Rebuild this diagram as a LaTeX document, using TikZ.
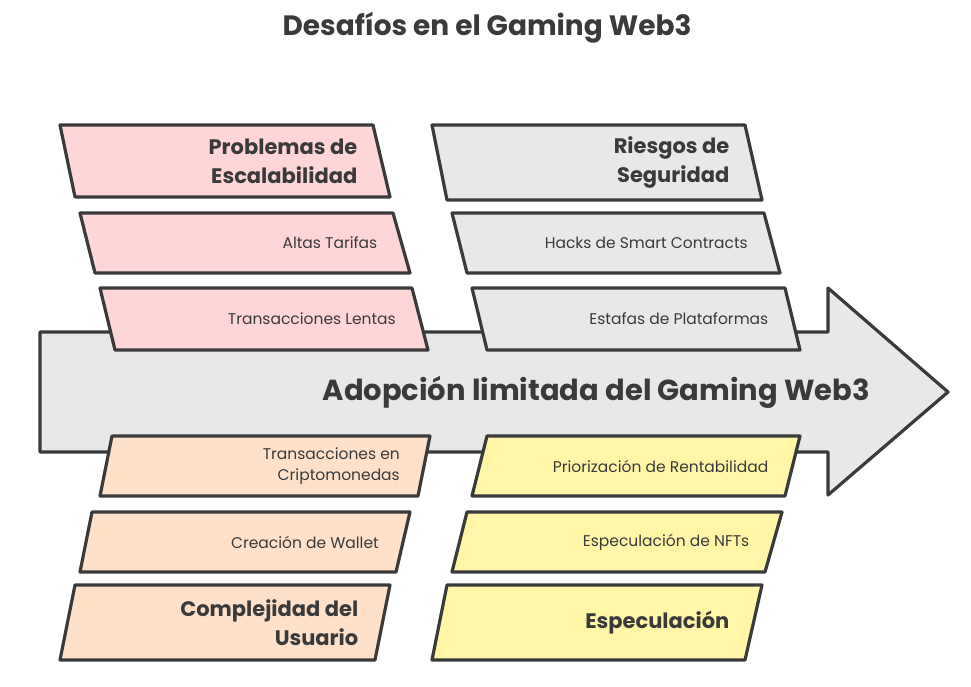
\documentclass[tikz,border=0pt]{standalone}
\usepackage{fontspec}
\setmainfont{Poppins}
\definecolor{ink}{HTML}{3A3A3A}
\definecolor{fred}{HTML}{FFD6D8}
\definecolor{fgray}{HTML}{E8E8E8}
\definecolor{forange}{HTML}{FFE1C9}
\definecolor{fyellow}{HTML}{FFF6A8}
\tikzset{
 edge/.style={draw=ink,line width=3.2pt,line join=round},
 itemtxt/.style={text=ink,font=\fontsize{15.5}{21}\selectfont,align=right,anchor=east,inner sep=0pt},
 headtxt/.style={text=ink,font=\fontsize{21}{29}\selectfont\bfseries,align=right,anchor=east,inner sep=0pt}
}
% #1 name, #2 ytop, #3 ybot, #4 xTL, #5 xTR, #6 xBL, #7 xBR, #8 fill, #9 node
\newcommand{\pbox}[9]{%
 \draw[edge,fill=#8] (#4,#2) -- (#5,#2) -- (#7,#3) -- (#6,#3) -- cycle;
 \coordinate (#1r) at ({(#5+#7)/2-24},{(#2+#3)/2});
 #9}
\begin{document}
\begin{tikzpicture}[x=1pt,y=-1pt]
\useasboundingbox (0,0) rectangle (971,686);
\node[text=ink,font=\fontsize{28}{34}\selectfont\bfseries] (title) at (487,28) {Desafíos en el Gaming Web3};
\draw[edge,fill=fgray] (40,332) -- (828,332) -- (828,288) -- (948,392) -- (828,495) -- (828,452) -- (40,452) -- cycle;
\node[text=ink,font=\fontsize{29}{34}\selectfont\bfseries,anchor=east,inner sep=0pt] (main) at (870,392) {Adopción limitada del Gaming Web3};
\pbox{a}{125}{197}{60}{373}{75}{390}{fred}{\node[headtxt] (an) at (ar) {Problemas de\\Escalabilidad};}
\pbox{b}{213}{273}{80}{393}{95}{410}{fred}{\node[itemtxt] (bn) at (br) {Altas Tarifas};}
\pbox{c}{288}{350}{100}{412}{115}{428}{fred}{\node[itemtxt] (cn) at (cr) {Transacciones Lentas};}
\pbox{d}{125}{200}{432}{745}{447}{762}{fgray}{\node[headtxt] (dn) at (dr) {Riesgos de\\Seguridad};}
\pbox{e}{213}{273}{452}{764}{467}{780}{fgray}{\node[itemtxt] (en) at (er) {Hacks de Smart Contracts};}
\pbox{f}{288}{350}{472}{785}{487}{800}{fgray}{\node[itemtxt] (fn) at (fr) {Estafas de Plataformas};}
\pbox{g}{436}{496}{112}{430}{100}{418}{forange}{\node[itemtxt] (gn) at (gr) {Transacciones en\\Criptomonedas};}
\pbox{h}{512}{572}{92}{410}{80}{396}{forange}{\node[itemtxt] (hn) at (hr) {Creación de Wallet};}
\pbox{i}{585}{660}{75}{390}{60}{375}{forange}{\node[headtxt] (in) at (ir) {Complejidad del\\Usuario};}
\pbox{j}{436}{496}{487}{800}{472}{785}{fyellow}{\node[itemtxt] (jn) at (jr) {Priorización de Rentabilidad};}
\pbox{k}{512}{572}{467}{782}{452}{765}{fyellow}{\node[itemtxt] (kn) at (kr) {Especulación de NFTs};}
\pbox{l}{585}{660}{447}{762}{432}{745}{fyellow}{\node[headtxt] (ln) at (lr) {Especulación};}
\end{tikzpicture}
\end{document}
